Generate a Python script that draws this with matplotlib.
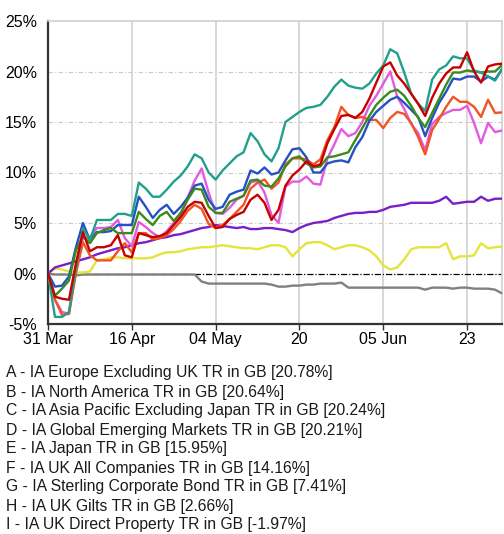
import numpy as np
import matplotlib
matplotlib.use("Agg")
import matplotlib.pyplot as plt

plt.rcParams["font.family"] = ["Liberation Sans", "DejaVu Sans"]

# ------------------ DATA ------------------
# one value per business day, 31 Mar .. 30 Jun
tick_pos = [0, 12, 24, 36, 48, 60]
tick_labels = ["31 Mar", "16 Apr", "04 May", "20", "05 Jun", "23"]

europe = [0, -2.3, -2.5, -2.6, 1.0, 4.1, 2.2, 2.6, 2.6, 2.8, 3.8, 1.8, 1.6, 4.0, 3.8, 3.6,
          3.7, 4.0, 4.8, 5.6, 6.6, 7.1, 7.0, 5.7, 4.5, 4.6, 5.4, 5.8, 6.1, 7.3, 7.8, 7.0,
          5.3, 6.3, 8.7, 9.7, 10.3, 11.1, 10.6, 10.8, 12.9, 14.3, 15.6, 15.7, 15.4, 16.0,
          17.3, 18.9, 20.5, 20.9, 19.6, 18.8, 17.8, 16.8, 15.6, 17.4, 18.8, 19.8, 20.4,
          20.4, 21.9, 20.0, 18.9, 20.5, 20.7, 20.78]
north_america = [0, -2.2, -1.5, -0.7, 2.3, 3.7, 3.0, 4.0, 4.3, 4.5, 4.0, 4.0, 4.0, 6.1, 5.4,
                 4.8, 5.7, 6.1, 5.2, 6.0, 7.3, 8.4, 8.3, 6.6, 6.0, 6.0, 7.1, 7.4, 7.7, 9.2,
                 9.3, 8.7, 8.6, 9.4, 10.6, 11.4, 11.6, 10.9, 10.5, 10.6, 11.5, 11.6, 11.8,
                 12.0, 13.2, 14.4, 15.6, 16.7, 17.4, 18.0, 18.2, 17.6, 16.6, 15.4, 14.5,
                 15.9, 17.3, 18.7, 19.9, 19.9, 20.1, 20.0, 19.9, 20.0, 20.0, 20.64]
asia_pac = [0, -1.3, -1.2, -0.3, 2.6, 5.0, 3.3, 4.1, 4.1, 4.2, 4.8, 4.8, 4.8, 7.6, 6.6, 5.5,
            6.3, 6.8, 5.9, 6.6, 7.5, 8.7, 8.9, 7.3, 6.4, 6.6, 7.8, 8.1, 8.3, 10.2, 9.9,
            10.5, 9.8, 10.0, 11.2, 12.3, 12.4, 11.5, 10.0, 10.0, 10.9, 11.1, 11.2, 11.0,
            12.5, 13.5, 15.1, 16.0, 16.6, 17.2, 17.5, 16.9, 16.2, 15.5, 13.6, 15.4, 16.9,
            18.0, 19.3, 19.2, 19.5, 19.5, 19.0, 19.5, 19.2, 20.24]
emerging = [0, -4.3, -4.3, -3.8, 0.5, 4.5, 3.3, 5.3, 5.3, 5.3, 5.9, 5.9, 5.7, 9.0, 8.4, 7.6,
            7.6, 8.3, 9.1, 9.7, 10.6, 11.8, 11.4, 10.0, 9.3, 10.2, 10.9, 11.6, 12.0, 13.9,
            13.1, 11.8, 11.1, 12.4, 15.0, 15.5, 16.0, 16.4, 16.5, 16.7, 17.5, 18.5, 19.2,
            18.6, 18.4, 18.3, 18.8, 19.8, 20.6, 22.2, 21.8, 19.9, 17.8, 16.8, 16.1, 19.2,
            20.2, 20.6, 21.5, 21.3, 21.3, 20.1, 19.9, 19.5, 19.1, 20.21]
japan = [0, -2.6, -4.1, -4.0, 0.0, 3.1, 1.8, 1.3, 1.3, 1.3, 2.2, 3.0, 2.1, 4.0, 4.0, 3.4,
         3.5, 3.8, 4.4, 5.2, 6.2, 6.8, 6.4, 4.9, 4.5, 4.8, 5.4, 6.1, 6.8, 8.4, 9.0, 9.3,
         8.4, 9.0, 10.8, 11.4, 11.4, 11.3, 10.8, 11.3, 13.2, 14.5, 16.5, 15.7, 15.4, 15.5,
         15.2, 15.2, 14.4, 15.4, 16.0, 15.8, 14.9, 13.5, 11.8, 14.2, 15.3, 16.5, 17.5,
         17.0, 17.0, 16.5, 15.5, 17.2, 15.9, 15.95]
uk_all = [0, -2.6, -3.8, -4.0, 0.5, 3.5, 3.6, 4.5, 4.5, 4.6, 5.3, 3.5, 2.7, 5.1, 4.6, 4.0,
          3.6, 4.2, 5.0, 5.8, 7.5, 9.2, 10.4, 8.0, 6.0, 5.9, 6.5, 7.3, 7.7, 9.0, 9.2, 8.0,
          5.8, 5.0, 8.6, 9.1, 9.1, 9.6, 8.9, 8.8, 11.4, 12.8, 14.3, 13.6, 13.9, 15.0, 16.6,
          17.6, 18.8, 20.0, 17.5, 16.3, 14.8, 13.9, 12.2, 14.8, 15.5, 15.9, 16.2, 16.2,
          16.6, 14.9, 12.9, 14.9, 14.0, 14.16]
corp_bond = [0, 0.6, 0.8, 1.0, 1.2, 1.4, 1.6, 1.9, 2.1, 2.3, 2.5, 2.6, 2.8, 3.0, 3.1, 3.3,
             3.5, 3.6, 3.8, 3.9, 4.1, 4.3, 4.5, 4.6, 4.8, 4.7, 4.6, 4.5, 4.6, 4.4, 4.4, 4.5,
             4.5, 4.4, 4.3, 4.1, 4.5, 4.8, 5.0, 5.1, 5.2, 5.5, 5.7, 5.9, 6.0, 6.0, 6.1, 6.1,
             6.3, 6.6, 6.7, 6.8, 7.0, 7.0, 7.0, 7.0, 7.2, 7.6, 6.9, 7.0, 7.1, 7.1, 7.6, 7.2,
             7.4, 7.41]
gilts = [0, 0.5, 0.4, 0.2, 0.1, 0.1, 0.2, 1.3, 1.4, 1.6, 1.6, 1.5, 1.5, 1.5, 1.5, 1.6, 1.9,
         2.1, 2.1, 2.2, 2.4, 2.5, 2.6, 2.6, 2.7, 2.8, 2.7, 2.6, 2.5, 2.5, 2.4, 2.6, 2.8, 2.8,
         2.6, 1.7, 2.4, 3.0, 3.1, 3.1, 2.8, 2.4, 2.6, 2.8, 2.8, 2.6, 2.3, 1.7, 0.8, 0.4, 0.6,
         1.4, 2.4, 2.6, 2.6, 2.6, 2.6, 3.0, 1.4, 1.7, 1.7, 1.8, 3.0, 2.5, 2.6, 2.66]
property_ = [0, -0.1, -0.1, -0.1, -0.2, -0.1, -0.1, -0.1, -0.1, -0.1, -0.1, -0.1, -0.1,
             -0.1, -0.1, -0.1, -0.1, -0.1, -0.1, -0.1, -0.1, -0.1, -0.8, -1.0, -1.0, -1.0,
             -1.0, -1.0, -1.0, -1.0, -1.0, -1.0, -1.1, -1.3, -1.3, -1.2, -1.2, -1.1, -1.1,
             -1.0, -1.0, -1.0, -0.9, -1.4, -1.4, -1.4, -1.4, -1.4, -1.4, -1.4, -1.4, -1.4,
             -1.4, -1.4, -1.6, -1.4, -1.4, -1.4, -1.5, -1.4, -1.4, -1.5, -1.5, -1.5, -1.6,
             -1.97]

series = [europe, north_america, asia_pac, emerging, japan, uk_all, corp_bond, gilts, property_]
colors = ["#c80000", "#3c8a1c", "#2452c0", "#20a08c", "#f05424", "#e25ae0",
          "#7a1ec8", "#e4e43c", "#808080"]
draw_order = [8, 7, 6, 5, 4, 2, 1, 3, 0]

legend_lines = [
    "A - IA Europe Excluding UK TR in GB [20.78%]",
    "B - IA North America TR in GB [20.64%]",
    "C - IA Asia Pacific Excluding Japan TR in GB [20.24%]",
    "D - IA Global Emerging Markets TR in GB [20.21%]",
    "E - IA Japan TR in GB [15.95%]",
    "F - IA UK All Companies TR in GB [14.16%]",
    "G - IA Sterling Corporate Bond TR in GB [7.41%]",
    "H - IA UK Gilts TR in GB [2.66%]",
    "I - IA UK Direct Property TR in GB [-1.97%]",
]

# ------------------ PLOT ------------------
fig = plt.figure(figsize=(5.04, 5.34), dpi=100)
ax = fig.add_axes([48 / 504, 1 - 324 / 534, 454 / 504, 303 / 534])

x = np.arange(len(europe))
for k in draw_order:
    ax.plot(x, series[k], color=colors[k], lw=1.7, zorder=3)

ax.axhline(0, color="black", lw=0.9, ls=(0, (5, 1.5, 1, 1.5)), zorder=2)

ax.set_xlim(0, len(europe) - 1)
ax.set_ylim(-5, 25)
ax.set_yticks([-5, 0, 5, 10, 15, 20, 25])
ax.set_yticklabels([f"{v}%" for v in [-5, 0, 5, 10, 15, 20, 25]], fontsize=11.5)
ax.set_xticks(tick_pos)
ax.set_xticklabels(tick_labels, fontsize=11.5)

for y in [5, 10, 15, 20]:
    ax.axhline(y, color="#c8c8c8", lw=0.8, ls=(0, (4, 2, 1, 2)), zorder=1)
for t in tick_pos[1:]:
    ax.axvline(t, color="#d2d2d2", lw=1.2, zorder=1)

ax.tick_params(axis="y", length=0, pad=8)
ax.tick_params(axis="x", length=4, width=1, pad=2, color="#333333")
for side in ["top", "right"]:
    ax.spines[side].set_color("#d0d0d0")
    ax.spines[side].set_linewidth(1.2)
for side in ["left", "bottom"]:
    ax.spines[side].set_color("#333333")
    ax.spines[side].set_linewidth(1.6)

for i, line in enumerate(legend_lines):
    fig.text(6 / 504, 1 - (373 + 19 * i) / 534, line, fontsize=11.3, va="center",
             ha="left", color="#1a1a1a")

fig.savefig("out.png", dpi=100)
